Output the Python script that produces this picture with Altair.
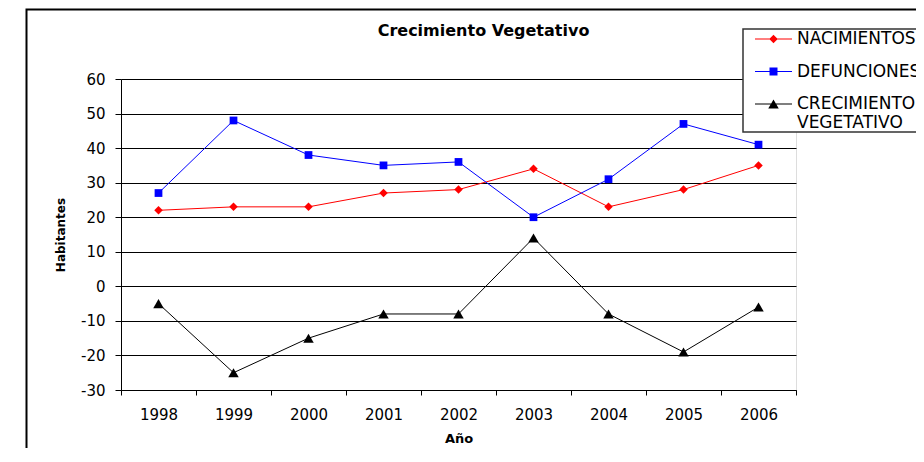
import altair as alt
import pandas as pd

years = ["1998", "1999", "2000", "2001", "2002", "2003", "2004", "2005", "2006"]
nacimientos = [22, 23, 23, 27, 28, 34, 23, 28, 35]
defunciones = [27, 48, 38, 35, 36, 20, 31, 47, 41]
crecimiento = [-5, -25, -15, -8, -8, 14, -8, -19, -6]
series = ["NACIMIENTOS", "DEFUNCIONES", "CRECIMIENTO VEGETATIVO"]
colors = ["#FF0000", "#0000FF", "#000000"]
marker_shapes = ["diamond", "square", "triangle-up"]
marker_sizes = [72, 60, 110]
y_ticks = [-30, -20, -10, 0, 10, 20, 30, 40, 50, 60]

rows = []
for name, vals in zip(series, [nacimientos, defunciones, crecimiento]):
    for yr, v in zip(years, vals):
        rows.append({"Año": yr, "Habitantes": v, "Serie": name})
df = pd.DataFrame(rows)

W, H = 675, 311
FONT = "DejaVu Sans"

# legend symbols: a line with the series marker on it (unit = sqrt(size)/2)
line_path = "M-1,-0.03H1V0.03H-1Z"
legend_paths = [
    line_path + " M-0.23,0L0,-0.23L0.23,0L0,0.23Z",
    line_path + " M-0.216,-0.216H0.216V0.216H-0.216Z",
    line_path + " M0,-0.246L0.284,0.246L-0.284,0.246Z",
]

legend = alt.Legend(
    title=None, orient="none", legendX=634, legendY=-58.5, direction="vertical",
    padding=0, strokeColor="transparent", fillColor="transparent",
    symbolSize=1369, symbolOpacity=1, symbolStrokeWidth=0,
    labelFont=FONT, labelFontSize=17, labelColor="black", labelOffset=5,
    labelLimit=400, rowPadding=5.5,
    labelExpr="datum.label == 'CRECIMIENTO VEGETATIVO' ? ['CRECIMIENTO', 'VEGETATIVO'] : datum.label",
)

x = alt.X(
    "Año:O",
    scale=alt.Scale(type="band", domain=years, paddingInner=0, paddingOuter=0),
    axis=alt.Axis(
        title="Año", tickBand="extent", labelAngle=0, tickSize=5, labelPadding=12,
        tickColor="black", domainColor="black", labelFont=FONT, labelFontSize=15,
        labelColor="black", titleFont=FONT, titleFontSize=13, titleFontWeight="bold",
        titleColor="black", titleX=W / 2, titleY=48, titleBaseline="middle", grid=False,
    ),
)
y = alt.Y(
    "Habitantes:Q",
    scale=alt.Scale(domain=[-30, 60], nice=False),
    axis=alt.Axis(
        title="Habitantes", values=y_ticks, tickSize=6, labelPadding=10,
        labelExpr="'' + datum.value",
        tickColor="black", domainColor="black", gridColor="black", gridWidth=1,
        labelFont=FONT, labelFontSize=15, labelColor="black",
        titleFont=FONT, titleFontSize=12, titleFontWeight="bold", titleColor="black",
        titleX=-61, titleY=H / 2, titleAngle=270, titleBaseline="middle", titleAlign="center",
    ),
)
color = alt.Color("Serie:N", scale=alt.Scale(domain=series, range=colors), legend=legend)

one_row = alt.Data(values=[{"f": 1}])

frame = alt.Chart(one_row).mark_rect(
    filled=False, stroke="black", strokeWidth=2
).encode(x=alt.value(-94.5), x2=alt.value(900), y=alt.value(-69.5), y2=alt.value(500))

legend_box = alt.Chart(one_row).mark_rect(
    fill="white", stroke="#333333", strokeWidth=1.5
).encode(x=alt.value(622), x2=alt.value(900), y=alt.value(-50), y2=alt.value(53))

lines = alt.Chart(df).mark_line(strokeWidth=1).encode(x=x, y=y, color=color)

point_layers = []
for name, shp, sz in zip(series, marker_shapes, marker_sizes):
    point_layers.append(
        alt.Chart(df).transform_filter(alt.datum.Serie == name)
        .mark_point(shape=shp, filled=True, size=sz, opacity=1)
        .encode(x=x, y=y, color=color)
    )

legend_layer = alt.Chart(df).mark_point(filled=True, opacity=0, size=10).encode(
    x=x, y=y, color=color,
    shape=alt.Shape("Serie:N", scale=alt.Scale(domain=series, range=legend_paths), legend=legend),
)

chart = alt.layer(frame, lines, *point_layers, legend_box, legend_layer).properties(
    width=W, height=H,
    title=alt.TitleParams(
        "Crecimiento Vegetativo", font=FONT, fontSize=16, fontWeight="bold",
        color="black", anchor="middle", dx=25, offset=-43.5, baseline="alphabetic",
    ),
    autosize=alt.AutoSizeParams(type="none"),
    padding={"left": 113, "top": 71, "right": 120, "bottom": 58},
).configure_view(stroke="#808080", strokeWidth=1).configure(background="white")

chart.save("out.html", embed_options={"renderer": "svg", "actions": False})
